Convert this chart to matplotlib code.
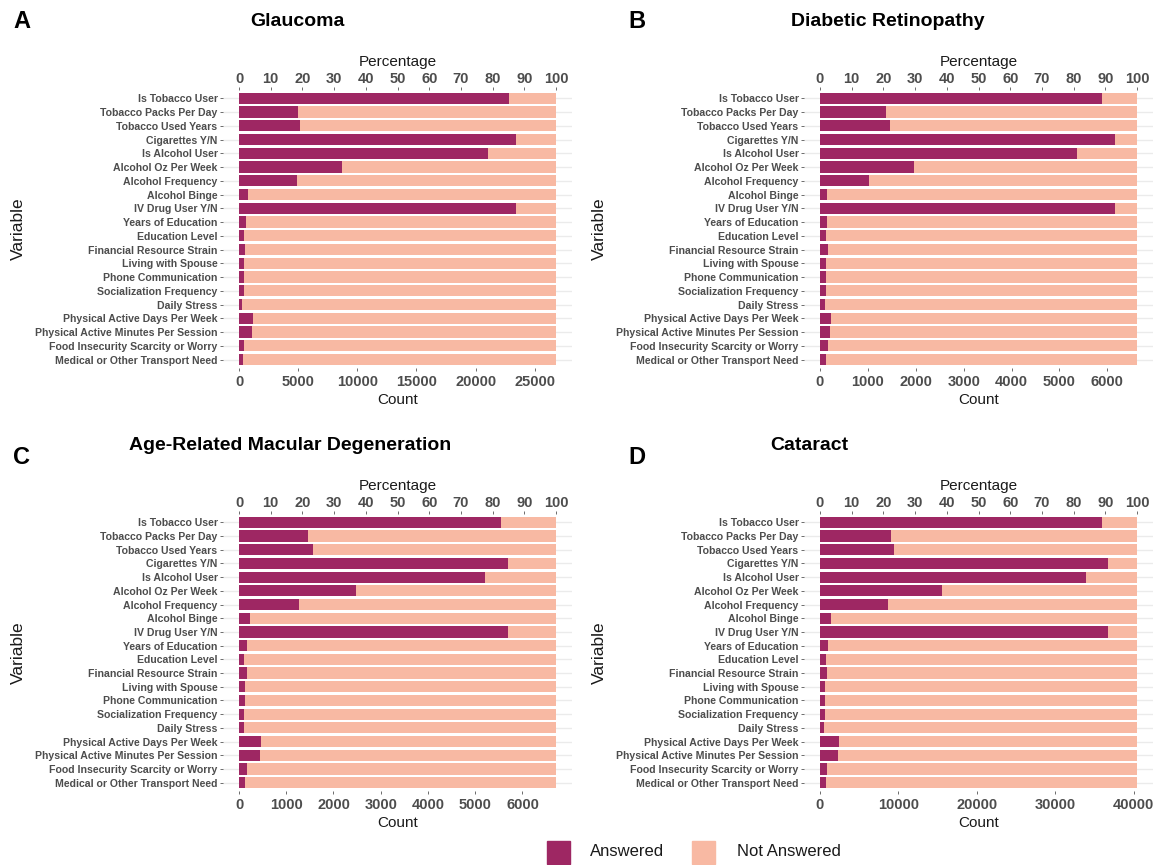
import matplotlib
matplotlib.use("Agg")
import matplotlib.pyplot as plt
from matplotlib.patches import Rectangle
import numpy as np

plt.rcParams['font.family'] = ['Liberation Sans', 'DejaVu Sans']

variables = ["Is Tobacco User", "Tobacco Packs Per Day", "Tobacco Used Years", "Cigarettes Y/N",
             "Is Alcohol User", "Alcohol Oz Per Week", "Alcohol Frequency", "Alcohol Binge",
             "IV Drug User Y/N", "Years of Education", "Education Level", "Financial Resource Strain",
             "Living with Spouse", "Phone Communication", "Socialization Frequency", "Daily Stress",
             "Physical Active Days Per Week", "Physical Active Minutes Per Session",
             "Food Insecurity Scarcity or Worry", "Medical or Other Transport Need"]

titles = ["Glaucoma", "Diabetic Retinopathy", "Age-Related Macular Degeneration", "Cataract"]
panel_letters = ["A", "B", "C", "D"]

total_glaucoma = 26800
total_dr = 6620
total_amd = 6710
total_cataract = 40400

answered_glaucoma = [22830, 4985, 5120, 23450, 21040, 8680, 4930, 780, 23450, 560,
                     400, 470, 400, 400, 400, 280, 1180, 1125, 430, 375]
answered_dr = [5890, 1385, 1465, 6170, 5360, 1960, 1015, 140, 6170, 140,
               125, 170, 115, 115, 115, 100, 230, 210, 170, 125]
answered_amd = [5555, 1465, 1575, 5690, 5200, 2470, 1275, 235, 5690, 165,
                115, 165, 135, 125, 115, 105, 465, 435, 165, 125]
answered_cataract = [35960, 9050, 9490, 36720, 33860, 15590, 8690, 1455, 36720, 990,
                     770, 850, 645, 645, 645, 525, 2465, 2300, 850, 705]

count_ticks_glaucoma = [0, 5000, 10000, 15000, 20000, 25000]
count_ticks_dr = [0, 1000, 2000, 3000, 4000, 5000, 6000]
count_ticks_amd = [0, 1000, 2000, 3000, 4000, 5000, 6000]
count_ticks_cataract = [0, 10000, 20000, 30000, 40000]
pct_ticks = [0, 10, 20, 30, 40, 50, 60, 70, 80, 90, 100]

legend_labels = ["Answered", "Not Answered"]
c_ans = "#9E2763"
c_not = "#F8B9A3"
tick_col = "#4D4D4D"

W, H = 1160, 865
fig = plt.figure(figsize=(W / 100, H / 100), dpi=100)

def fx(px):
    return px / W

def fy(py):
    return 1 - py / H

panels = [
    dict(total=total_glaucoma, ans=answered_glaucoma, ticks=count_ticks_glaucoma,
         x0=239, x100=556, ytop=98.3, ybot=359.5, title_x=297, title_y=22, let_x=22, let_y=22),
    dict(total=total_dr, ans=answered_dr, ticks=count_ticks_dr,
         x0=820, x100=1137, ytop=98.3, ybot=359.5, title_x=888, title_y=22, let_x=637, let_y=22),
    dict(total=total_amd, ans=answered_amd, ticks=count_ticks_amd,
         x0=239, x100=556, ytop=522.3, ybot=782.7, title_x=290, title_y=445, let_x=22, let_y=457),
    dict(total=total_cataract, ans=answered_cataract, ticks=count_ticks_cataract,
         x0=820, x100=1137, ytop=522.3, ybot=782.7, title_x=809, title_y=445, let_x=637, let_y=457),
]

n = len(variables)
for i, p in enumerate(panels):
    step = (p['ybot'] - p['ytop']) / (n - 1)
    span = p['x100'] - p['x0']
    left = p['x0'] - 0.05 * span
    right = p['x100'] + 0.05 * span
    top = p['ytop'] - 0.6 * step
    bot = p['ybot'] + 0.6 * step
    ax = fig.add_axes([fx(left), fy(bot), fx(right - left), (bot - top) / H])
    N = p['total']
    ans = np.array(p['ans'])
    ypos = np.arange(n)
    ax.barh(ypos, ans, height=0.82, color=c_ans, zorder=3)
    ax.barh(ypos, N - ans, left=ans, height=0.82, color=c_not, zorder=3)
    ax.set_xlim(-0.05 * N, 1.05 * N)
    ax.set_ylim(n - 0.4, -0.6)
    ax.set_yticks(ypos)
    ax.set_yticklabels(variables, fontsize=7.6, fontweight='bold', color=tick_col)
    ax.set_xticks(p['ticks'])
    ax.set_xticklabels([str(t) for t in p['ticks']], fontsize=10.5, fontweight='bold', color=tick_col)
    ax.grid(axis='y', color='#EBEBEB', linewidth=1.0, zorder=0)
    ax.grid(axis='x', visible=False)
    for s in ax.spines.values():
        s.set_visible(False)
    ax.tick_params(axis='y', length=2.5, width=0.6, color='#555555', pad=1.5)
    ax.tick_params(axis='x', length=2, width=0.6, color='#555555', pad=3)
    ax.set_xlabel("Count", fontsize=11, color='#1a1a1a', labelpad=3)
    ax.set_ylabel("Variable", fontsize=12.5, color='#1a1a1a', va='center')
    label_x = p['x0'] - 221
    ax.yaxis.set_label_coords((label_x - left) / (right - left), 0.5)
    sec = ax.secondary_xaxis('top', functions=(lambda c, N=N: c / N * 100, lambda q, N=N: q * N / 100))
    sec.set_xticks(pct_ticks)
    sec.set_xticklabels([str(t) for t in pct_ticks], fontsize=10.5, fontweight='bold', color=tick_col)
    sec.tick_params(length=2, width=0.6, color='#555555', pad=1)
    for s in sec.spines.values():
        s.set_visible(False)
    sec.set_xlabel("Percentage", fontsize=11, color='#1a1a1a', labelpad=4)
    ax.set_facecolor('white')
    fig.text(fx(p['title_x']), fy(p['title_y']), titles[i], fontsize=14, fontweight='bold',
             ha='center', va='center', color='black')
    fig.text(fx(p['let_x']), fy(p['let_y']), panel_letters[i], fontsize=17, fontweight='bold',
             ha='center', va='center', color='black')

# legend
leg_y = 852
sq = 23
fig.patches.append(Rectangle((fx(547), fy(leg_y + sq / 2)), fx(sq), sq / H, color=c_ans,
                             transform=fig.transFigure, figure=fig))
fig.text(fx(590), fy(leg_y), legend_labels[0], fontsize=12, va='center', ha='left', color='#1a1a1a')
fig.patches.append(Rectangle((fx(692), fy(leg_y + sq / 2)), fx(sq), sq / H, color=c_not,
                             transform=fig.transFigure, figure=fig))
fig.text(fx(737), fy(leg_y), legend_labels[1], fontsize=12, va='center', ha='left', color='#1a1a1a')

fig.savefig("out.png", dpi=100, facecolor='white')
